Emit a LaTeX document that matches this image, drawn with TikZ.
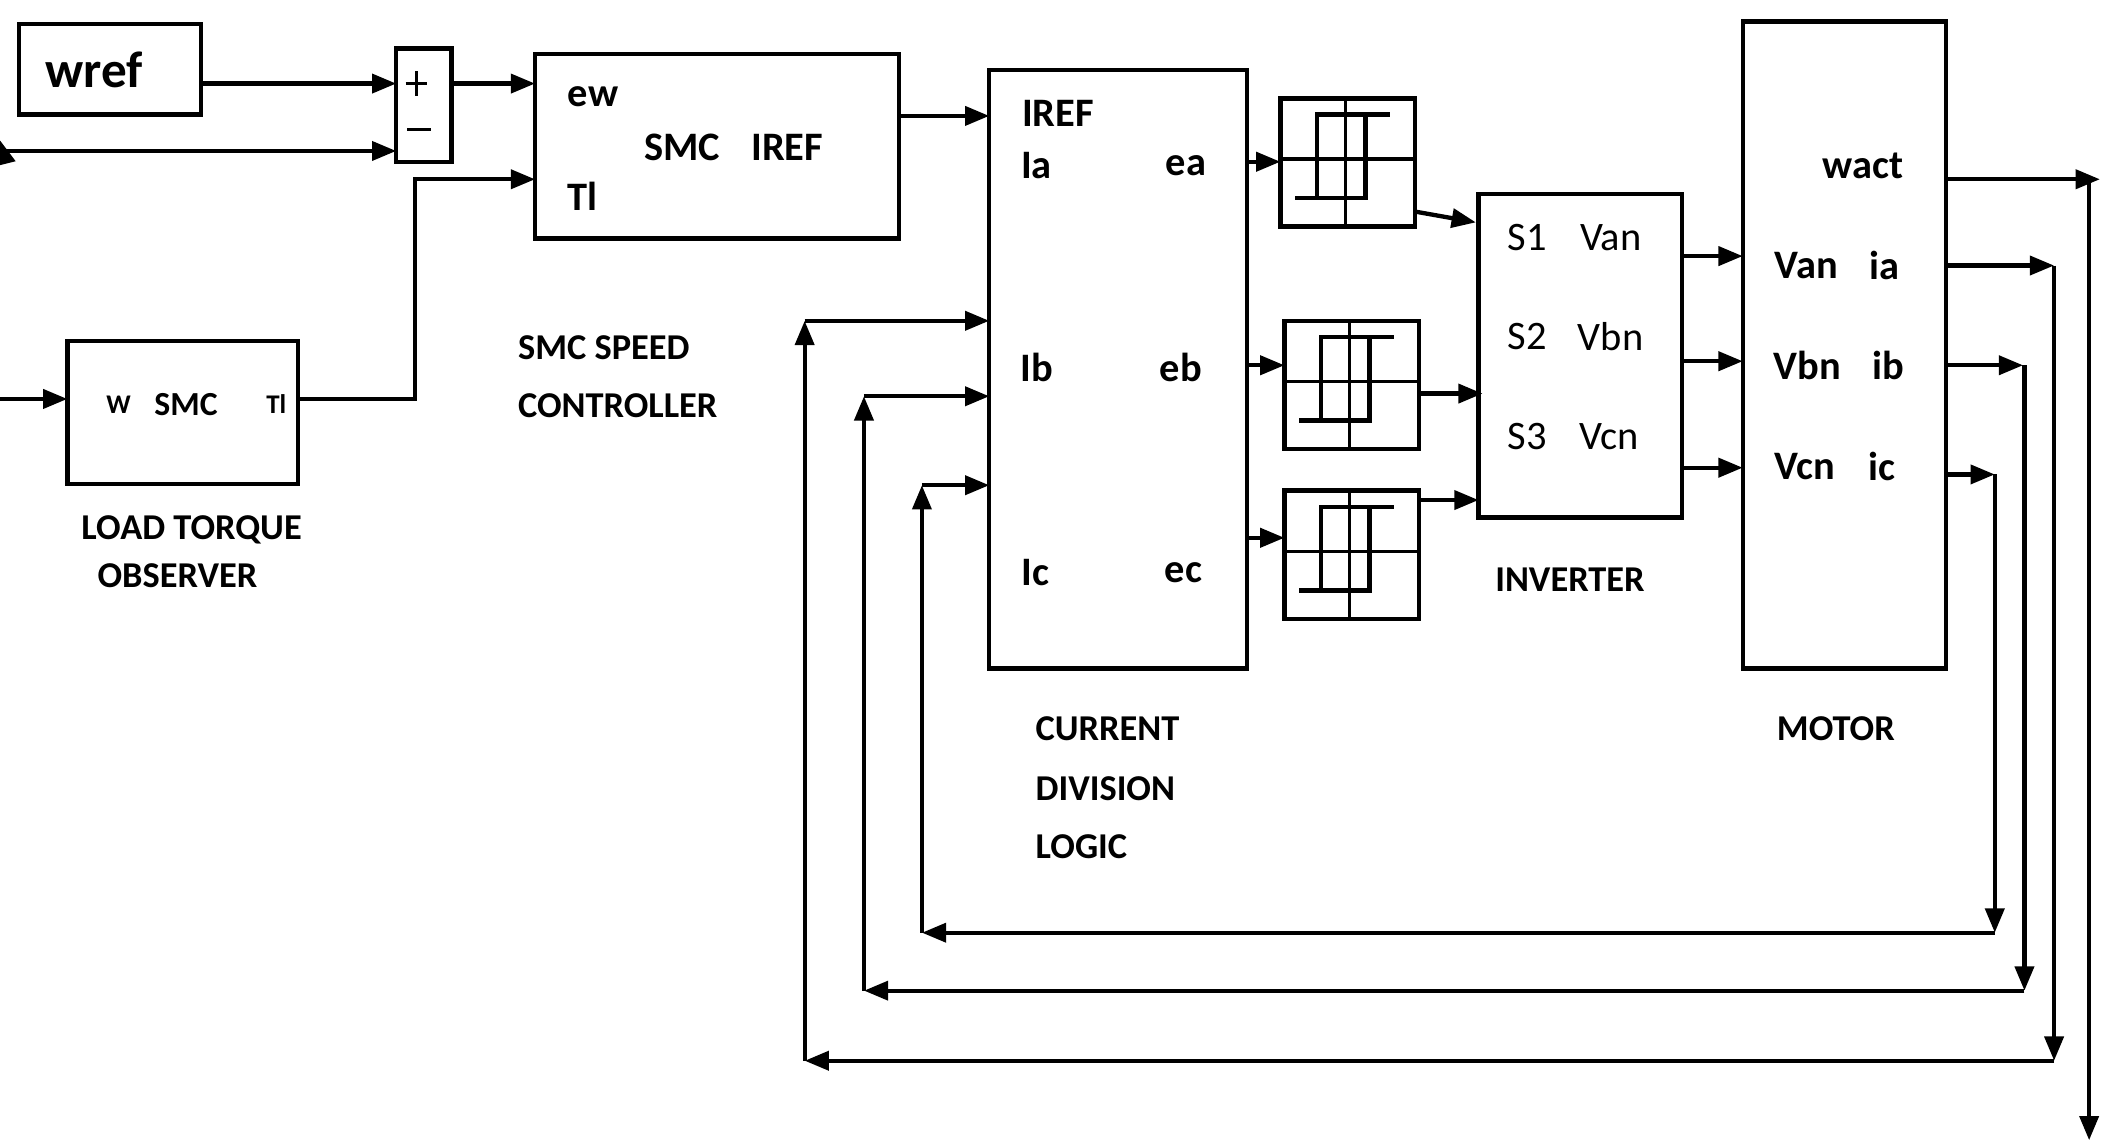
\documentclass[tikz,border=0pt]{standalone}
\usepackage{fontspec}
\setmainfont{Carlito}
\usetikzlibrary{arrows.meta}
\begin{document}
\begin{tikzpicture}[x=0.5pt,y=-0.5pt,
  blk/.style={draw,line width=1.6pt},
  ar/.style={line width=1.6pt,-{Triangle[length=9pt,width=7pt]}},
  ln/.style={line width=1.6pt},
  tb/.style={font=\bfseries\fontsize{15}{15}\selectfont,inner sep=0pt},
  tr/.style={font=\fontsize{15}{15}\selectfont,inner sep=0pt},
  lb/.style={font=\bfseries\fontsize{13.5}{13.5}\selectfont,inner sep=0pt,anchor=west}]
\useasboundingbox (0,0) rectangle (1564,846);
\newcommand{\hyst}[3]{%
 \begin{scope}[shift={(#1,#2)}]
  \draw[blk] (0,0) coordinate (#3) rectangle (100,95);
  \draw[line width=1.2pt] (0,45) -- (100,45) (48,0) -- (48,95);
  \draw[line width=1.6pt] (81,12) -- (27,12) -- (27,74) (11,74) -- (63,74) -- (63,12);
 \end{scope}}
% blocks
\draw[blk] (14,18) rectangle (149,85); \node[tb,font=\bfseries\fontsize{19}{19}\selectfont] (wref) at (70,52) {wref};
\draw[blk] (294,36) rectangle (335,120);
\draw[line width=1.1pt] (301,62)--(317,62) (309,53)--(309,71) (302,96)--(320,96);
\draw[blk] (397,40) rectangle (667,177);
\node[tb] at (440,72) {ew}; \node[tb] at (506,109) {SMC}; \node[tb] at (584,109) {IREF}; \node[tb] at (432,146) {Tl};
\draw[blk] (50,253) rectangle (221,359);
\node[tb,font=\bfseries\fontsize{10}{10}\selectfont] at (88,300) {W};
\node[tb,font=\bfseries\fontsize{12.5}{12.5}\selectfont] at (138,300) {SMC};
\node[tb,font=\bfseries\fontsize{10}{10}\selectfont] at (205,300) {Tl};
\node[lb] at (60,393) {LOAD TORQUE}; \node[lb] at (72,427) {OBSERVER};
\node[lb] at (384,258) {SMC SPEED}; \node[lb] at (384,301) {CONTROLLER};
\draw[blk] (734,52) rectangle (925,496);
\node[tb] at (785,84) {IREF}; \node[tb] at (769,123) {Ia}; \node[tb] at (880,123) {ea};
\node[tb] at (769,273) {Ib}; \node[tb] at (876,273) {eb};
\node[tb] at (768,425) {Ic}; \node[tb] at (878,425) {ec};
\node[lb] at (768,541) {CURRENT}; \node[lb] at (768,585) {DIVISION}; \node[lb] at (768,628) {LOGIC};
\hyst{950}{73}{h1} \hyst{953}{238}{h2} \hyst{953}{364}{h3}
\draw[blk] (1097,144) rectangle (1248,384);
\node[tr] at (1133,176) {S1}; \node[tr] at (1195,176) {Van};
\node[tr] at (1133,250) {S2}; \node[tr] at (1195,250) {Vbn};
\node[tr] at (1133,324) {S3}; \node[tr] at (1194,324) {Vcn};
\node[lb] at (1109,430) {INVERTER};
\draw[blk] (1293,16) rectangle (1444,496);
\node[tb] at (1382,123) {wact};
\node[tb] at (1340,197) {Van}; \node[tb] at (1398,197) {ia};
\node[tb] at (1341,271) {Vbn}; \node[tb] at (1401,271) {ib};
\node[tb] at (1339,346) {Vcn}; \node[tb] at (1396,346) {ic};
\node[lb] at (1318,541) {MOTOR};
% connectors
\draw[ar] (149,62) -- (294,62);
\draw[ln] (0,112) -- (40,112); \draw[ar] (0,112) -- (294,112);
\draw[ar] (335,62) -- (397,62);
\draw[ar] (221,296) -- (308,296) -- (308,133) -- (397,133);
\draw[ar] (0,296) -- (50,296);
\draw[ar] (667,86) -- (734,86);
\draw[ar] (925,120) -- (950,120);
\draw[ar] (925,271) -- (953,271);
\draw[ar] (925,399) -- (953,399);
\draw[ar] (1050,157) -- (1095,165);
\draw[ar] (1053,292) -- (1100,292);
\draw[ar] (1053,371) -- (1097,371);
\draw[ar] (1248,190) -- (1293,190);
\draw[ar] (1248,268) -- (1293,268);
\draw[ar] (1248,347) -- (1293,347);
\draw[ar] (1444,133) -- (1558,133);
\draw[ar] (1550,133) -- (1550,846);
\draw[ar] (1444,197) -- (1524,197);
\draw[ar] (1524,197) -- (1524,787);
\draw[ar] (1524,787) -- (597,787);
\draw[ar] (597,787) -- (597,238);
\draw[ar] (597,238) -- (734,238);
\draw[ar] (1444,271) -- (1501,271);
\draw[ar] (1502,271) -- (1502,735);
\draw[ar] (1502,735) -- (641,735);
\draw[ar] (641,735) -- (641,294);
\draw[ar] (641,294) -- (734,294);
\draw[ar] (1444,352) -- (1480,352);
\draw[ar] (1480,352) -- (1480,692);
\draw[ar] (1480,692) -- (684,692);
\draw[ar] (684,692) -- (684,360);
\draw[ar] (684,360) -- (734,360);
\draw[ar] (2,112) -- (0,104);
\end{tikzpicture}
\end{document}
